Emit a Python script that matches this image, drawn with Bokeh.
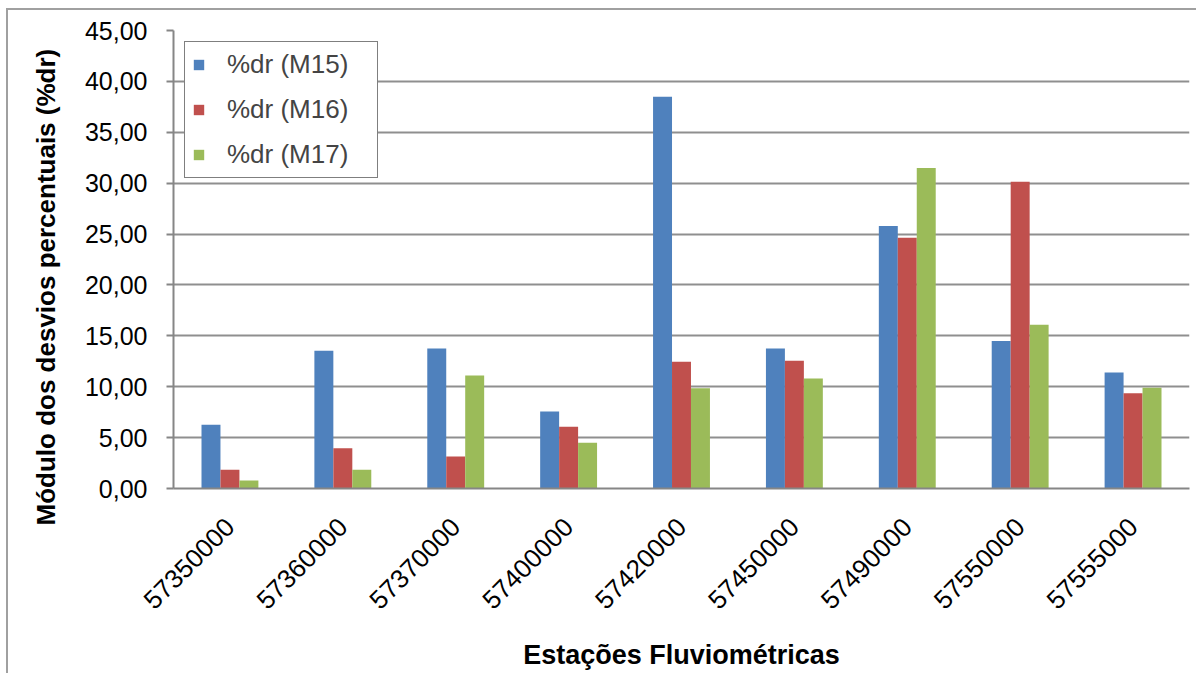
from math import pi
from bokeh.plotting import figure
from bokeh.models import (ColumnDataSource, FactorRange, Range1d, Legend, LegendItem,
                          CustomJSTickFormatter, FixedTicker, Title)
from bokeh.transform import dodge
from bokeh.embed import file_html
from bokeh.resources import INLINE

stations = ["57350000", "57360000", "57370000", "57400000", "57420000",
            "57450000", "57490000", "57550000", "57555000"]
m15 = [6.26, 13.53, 13.75, 7.56, 38.50, 13.75, 25.80, 14.50, 11.40]
m16 = [1.84, 3.96, 3.14, 6.06, 12.45, 12.54, 24.63, 30.13, 9.36]
m17 = [0.79, 1.84, 11.10, 4.49, 9.85, 10.80, 31.50, 16.10, 9.90]
series_names = ["%dr (M15)", "%dr (M16)", "%dr (M17)"]
y_ticks = [0, 5, 10, 15, 20, 25, 30, 35, 40, 45]

colors = ["#4F81BD", "#C0504D", "#9BBB59"]
FONT = "Liberation Sans"

src = ColumnDataSource(dict(station=stations, m15=m15, m16=m16, m17=m17))

p = figure(x_range=FactorRange(*stations, range_padding=0),
           y_range=Range1d(0, 45),
           frame_width=1016, frame_height=458,
           min_border_left=164, min_border_top=20, min_border_right=8,
           min_border_bottom=185,
           output_backend="svg", toolbar_location=None)
p.x_range.factor_padding = 0

bw = 0.168
renderers = []
for key, off, col in zip(["m15", "m16", "m17"], [-bw, 0, bw], colors):
    r = p.vbar(x=dodge("station", off, range=p.x_range), top=key, width=bw,
               source=src, fill_color=col, line_color=None)
    renderers.append(r)

legend = Legend(items=[LegendItem(label=n, renderers=[r]) for n, r in zip(series_names, renderers)],
                location="top_left", margin=11, padding=7, spacing=14,
                glyph_width=13, glyph_height=13, label_standoff=22,
                label_text_font=FONT, label_text_font_size="26px",
                label_width=143, label_height=29,
                border_line_color="black", border_line_width=1,
                background_fill_color="white", background_fill_alpha=1)
p.add_layout(legend)

p.outline_line_color = None
p.background_fill_color = "white"
p.border_fill_color = "white"

p.xgrid.grid_line_color = None
p.ygrid.grid_line_color = "#8f8f8f"
p.ygrid.grid_line_width = 2
p.yaxis.ticker = FixedTicker(ticks=y_ticks)
p.yaxis.formatter = CustomJSTickFormatter(code="return tick.toFixed(2).replace('.', ',');")

for ax in (p.xaxis, p.yaxis):
    ax.axis_line_color = "#868686"
    ax.axis_line_width = 2
    ax.major_label_text_font = FONT
    ax.major_label_text_color = "black"
    ax.axis_label_text_font = FONT
    ax.axis_label_text_font_size = "27px"
    ax.axis_label_text_font_style = "bold"
    ax.axis_label_text_color = "black"
    ax.minor_tick_line_color = None

p.yaxis.major_label_text_font_size = "25px"
p.yaxis.major_tick_line_color = "#868686"
p.yaxis.major_tick_line_width = 2
p.yaxis.major_tick_out = 7
p.yaxis.major_tick_in = 0
p.yaxis.major_label_standoff = 19

# y-axis title, starting a little below the frame bottom as in the reference
p.add_layout(Title(text="Módulo dos desvios percentuais (%dr)", align="left", offset=-37,
                   standoff=41, text_font=FONT, text_font_size="26px",
                   text_font_style="bold", text_color="black"), "left")

p.xaxis.major_label_text_font_size = "26px"
p.xaxis.major_tick_line_color = None
p.xaxis.major_tick_out = 0
p.xaxis.major_tick_in = 0
p.xaxis.major_label_orientation = pi / 4
p.xaxis.major_label_standoff = 34
p.xaxis.axis_label = "Estações Fluviométricas"
p.xaxis.axis_label_standoff = 20

p.styles = {"margin-left": "6px", "margin-top": "8px",
            "border-top": "2px solid #a0a0a0", "border-left": "2px solid #a0a0a0"}

open("out.html", "w").write(file_html(p, INLINE))
